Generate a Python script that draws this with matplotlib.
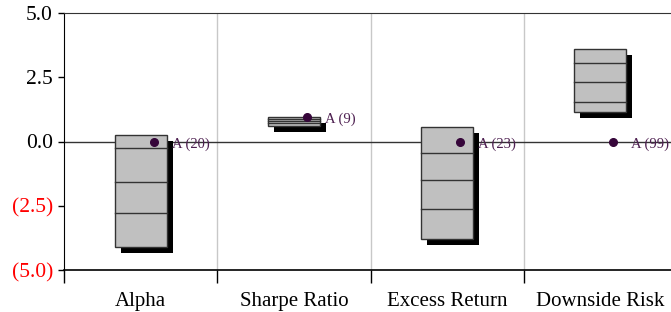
import matplotlib
matplotlib.use("Agg")
import matplotlib.pyplot as plt
import matplotlib.transforms as mtransforms
from matplotlib.patches import Rectangle

# ==============================
# DATA
# ==============================
categories = ["Alpha", "Sharpe Ratio", "Excess Return", "Downside Risk"]
box_top = [0.27, 0.97, 0.58, 3.58]
line_hi = [-0.27, 0.88, -0.43, 3.07]
line_mid = [-1.56, 0.80, -1.48, 2.30]
line_lo = [-2.80, 0.71, -2.61, 1.52]
box_bottom = [-4.09, 0.62, -3.81, 1.13]
point_vals = [0.0, 0.97, 0.0, 0.0]
point_labels = ["A (20)", "A (9)", "A (23)", "A (99)"]

y_ticks = [5.0, 2.5, 0.0, -2.5, -5.0]
y_ticklabels = ["5.0", "2.5", "0.0", "(2.5)", "(5.0)"]
y_tickcolors = ["black", "black", "black", "red", "red"]

plt.rcParams['font.family'] = ['Liberation Serif', 'DejaVu Serif']

# ==============================
# FIGURE
# ==============================
W, H = 671, 312
fig = plt.figure(figsize=(W / 100, H / 100), dpi=100)
ax = fig.add_axes([64 / W, 42 / H, 613 / W, 257 / H])

ax.set_xlim(0, len(categories))
ax.set_ylim(-5, 5)

# grid / reference lines
for i in range(1, len(categories)):
    ax.axvline(i, color="#c8c8c8", lw=1, zorder=0)
ax.axhline(0, color="#333333", lw=1, zorder=1)

shadow_tr = mtransforms.offset_copy(ax.transData, fig=fig, x=6, y=-6, units="dots")
box_w = 0.34

for i, cat in enumerate(categories):
    cx = i + 0.5
    x0 = cx - box_w / 2
    h = box_top[i] - box_bottom[i]
    ax.add_patch(Rectangle((x0, box_bottom[i]), box_w, h, facecolor="black",
                           edgecolor="none", transform=shadow_tr, zorder=2))
    ax.add_patch(Rectangle((x0, box_bottom[i]), box_w, h, facecolor="#c0c0c0",
                           edgecolor="#333333", lw=1, zorder=3))
    for yv in (line_hi[i], line_mid[i], line_lo[i]):
        ax.plot([x0, x0 + box_w], [yv, yv], color="#333333", lw=1, zorder=4)

    px = cx + 0.085
    ax.plot(px, point_vals[i], "o", color="#36063a", markersize=5.5, zorder=5)
    ax.annotate(point_labels[i], (px, point_vals[i]), xytext=(13, -2),
                textcoords="offset points", ha="left", va="center",
                fontsize=10.5, color="#4d1f50", zorder=6)

# spines
ax.spines["right"].set_visible(False)
ax.spines["top"].set_color("#333333")
ax.spines["left"].set_color("black")
ax.spines["bottom"].set_color("black")
ax.spines["bottom"].set_linewidth(1.2)

# y ticks
ax.set_yticks(y_ticks)
ax.set_yticklabels(y_ticklabels, fontsize=15.5)
for lab, c in zip(ax.get_yticklabels(), y_tickcolors):
    lab.set_color(c)
ax.tick_params(axis="y", direction="out", length=4, width=1, pad=4)

# x ticks: boundaries as major, category names as minor
ax.set_xticks(range(len(categories) + 1))
ax.set_xticklabels([])
ax.tick_params(axis="x", which="major", direction="out", length=9, width=1)
ax.set_xticks([i + 0.5 for i in range(len(categories))], minor=True)
ax.set_xticklabels(categories, minor=True, fontsize=15)
ax.tick_params(axis="x", which="minor", length=0, pad=16)

fig.savefig("out.png", dpi=100)
